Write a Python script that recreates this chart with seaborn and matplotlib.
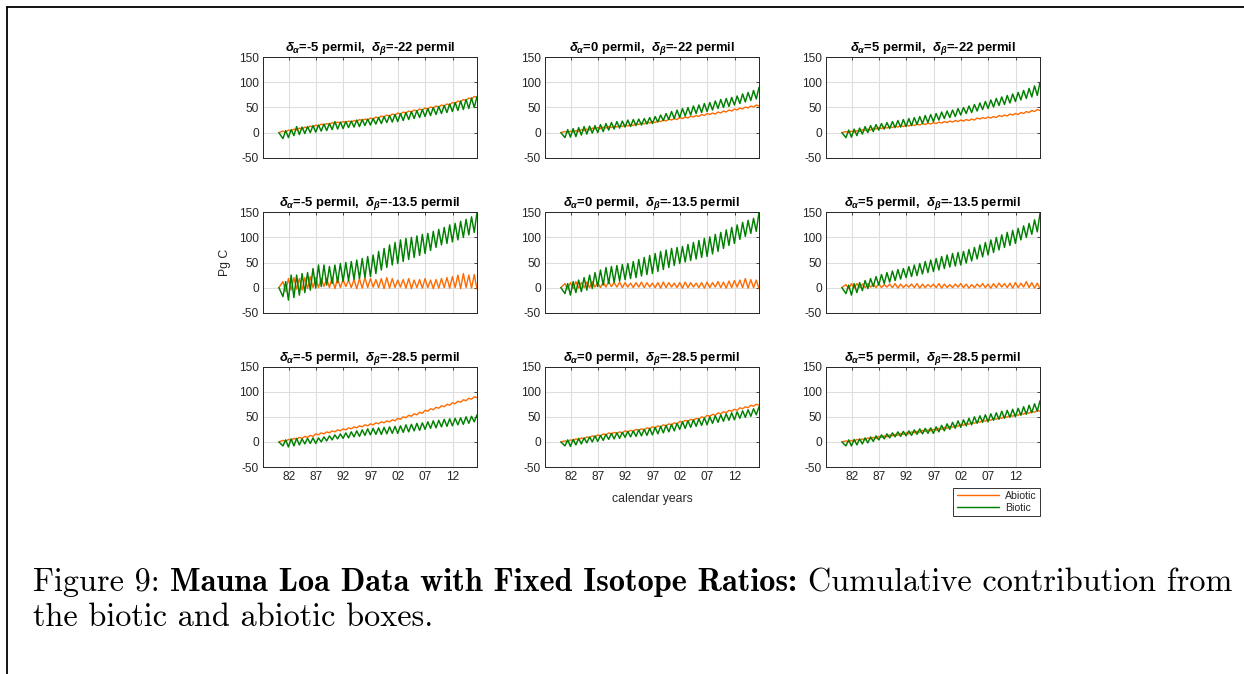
import matplotlib
matplotlib.use("Agg")
import matplotlib.pyplot as plt
import seaborn as sns
import pandas as pd
from matplotlib.lines import Line2D

# ---------------- data ----------------
ALPHAS = ["-5", "0", "5"]            # columns
BETAS = ["-22", "-13.5", "-28.5"]    # rows
TICK_YEARS = [1982, 1987, 1992, 1997, 2002, 2007, 2012]
TICK_LABELS = ["82", "87", "92", "97", "02", "07", "12"]
YTICKS = [-50, 0, 50, 100, 150]
START_T = 1980.2
CYCLE_YEARS = list(range(1980, 2016))   # one seasonal cycle per year

# panel 1: da=-5, db=-22
ABI_HI_1 = [3,5,7,9,11,13,15,17,18,20,21,22,23,24,26,27,29,31,33,35,37,39,41,43,45,47,49,51,53,55,57,60,63,66,69,72]
ABI_LO_1 = [1,3,5,7,9,11,13,15,16,18,19,20,21,22,24,25,27,29,31,33,35,37,39,41,43,45,47,49,51,53,55,58,61,64,67,70]
BIO_LO_1 = [-12,-10,-6,-4,-2,0,1,3,4,6,7,8,10,11,12,14,15,17,18,20,21,22,24,26,28,30,32,34,36,38,40,42,44,46,48,50]
BIO_HI_1 = [4,6,12,11,12,14,15,17,18,22,21,22,23,25,26,27,28,30,32,34,36,38,40,42,44,46,48,50,52,54,57,60,63,66,69,72]
# panel 2: da=0, db=-22
ABI_HI_2 = [2,3,4,6,7,9,10,11,12,13,14,15,16,18,19,21,22,24,25,27,28,30,31,33,34,36,38,39,41,43,45,47,49,51,53,55]
ABI_LO_2 = [0,1,2,4,5,7,8,9,10,11,12,13,14,16,17,19,20,22,23,25,26,28,29,31,32,34,36,37,39,41,43,45,47,49,51,53]
BIO_LO_2 = [-10,-9,-8,-5,-3,-1,0,2,5,7,9,11,12,14,15,17,18,21,24,26,28,30,33,35,38,40,42,45,48,50,52,55,58,61,64,67]
BIO_HI_2 = [6,8,10,12,13,14,16,18,20,22,23,25,26,27,28,30,32,35,38,42,45,48,50,53,55,58,60,63,66,68,70,73,77,80,84,90]
# panel 3: da=5, db=-22
ABI_HI_3 = [2,3,4,6,7,9,10,11,12,13,14,15,16,17,18,19,20,21,22,23,24,25,26,27,29,30,31,32,34,35,37,38,40,42,44,46]
ABI_LO_3 = [0,1,2,4,5,7,8,9,10,11,12,13,14,15,16,17,18,19,20,21,22,23,24,25,27,28,29,30,32,33,35,36,38,40,42,44]
BIO_LO_3 = [-10,-9,-6,-3,0,2,5,7,8,10,11,12,14,16,18,20,22,25,28,30,32,35,38,40,43,46,48,51,54,56,59,62,65,68,71,74]
BIO_HI_3 = [5,7,9,12,14,16,18,20,22,24,26,28,30,32,34,36,38,41,43,45,48,50,53,56,59,62,65,68,71,74,77,80,84,88,93,100]
# panel 4: da=-5, db=-13.5
ABI_HI_4 = [12,18,20,18,20,22,20,18,18,20,18,16,15,16,18,20,18,16,18,20,18,15,16,18,15,16,18,15,16,18,20,22,25,28,25,26]
ABI_LO_4 = [-8,-5,-3,-5,-2,0,0,2,0,-2,0,2,0,-2,-1,0,1,0,-2,-1,0,1,-1,-2,0,-1,0,-2,-1,0,-1,0,-2,0,-1,-3]
BIO_LO_4 = [-18,-25,-20,-15,-10,-5,-1,2,5,8,10,12,14,16,18,20,22,28,35,40,45,48,52,56,60,64,68,74,80,85,88,91,95,100,105,110]
BIO_HI_4 = [12,25,25,28,30,38,45,45,42,45,48,50,52,55,58,62,65,72,78,85,90,95,98,100,103,106,108,112,116,120,125,128,132,136,141,150]
# panel 5: da=0, db=-13.5
ABI_HI_5 = [8,10,12,10,11,12,10,11,12,10,11,10,9,10,11,10,9,10,11,10,9,10,11,10,9,10,11,10,12,11,13,14,15,18,16,15]
ABI_LO_5 = [-3,-2,-1,0,0,1,0,1,2,1,0,1,0,1,0,1,0,-1,0,1,0,-1,0,1,0,-1,0,1,0,-1,0,1,0,-1,0,-2]
BIO_LO_5 = [-12,-15,-10,-8,-5,-2,2,5,8,10,13,16,18,20,23,26,28,32,36,40,44,48,51,54,57,60,62,67,72,78,84,88,96,102,108,112]
BIO_HI_5 = [8,12,15,20,25,30,35,40,42,44,46,48,52,56,60,64,68,72,75,78,80,82,86,90,94,98,101,106,110,115,120,125,130,134,138,150]
# panel 6: da=5, db=-13.5
ABI_HI_6 = [6,8,8,7,8,7,8,6,7,8,7,6,7,8,7,6,7,8,7,6,7,8,7,6,7,8,7,8,9,8,9,10,9,12,10,9]
ABI_LO_6 = [-2,-1,0,0,1,0,0,1,0,-1,0,1,0,-1,0,1,0,-1,0,0,1,0,-1,0,1,0,-1,0,1,0,-1,0,1,0,-1,-2]
BIO_LO_6 = [-12,-15,-10,-6,-2,2,5,8,11,14,17,20,22,24,27,30,32,35,38,41,43,45,49,53,57,61,65,70,75,80,84,88,95,100,106,111]
BIO_HI_6 = [5,8,10,14,18,22,26,30,33,36,38,42,45,48,52,55,58,62,65,68,70,72,76,80,85,90,95,100,105,110,114,118,123,128,135,148]
# panel 7: da=-5, db=-28.5
ABI_HI_7 = [3,5,7,9,11,13,16,18,20,22,24,26,28,30,32,34,36,38,40,42,44,47,50,53,56,59,63,66,69,72,75,78,81,84,87,90]
ABI_LO_7 = [1,3,5,7,9,11,14,16,18,20,22,24,26,28,30,32,34,36,38,40,42,45,48,51,54,57,61,64,67,70,73,76,79,82,85,88]
BIO_LO_7 = [-8,-10,-8,-6,-4,-3,-3,0,2,4,6,7,8,10,11,13,14,15,15,16,17,17,19,20,22,23,25,27,28,30,31,32,34,35,37,40]
BIO_HI_7 = [4,6,7,6,7,8,8,10,12,14,16,18,20,22,24,26,27,28,29,30,31,32,34,35,37,38,40,42,43,45,46,47,48,50,51,54]
# panel 8: da=0, db=-28.5
ABI_HI_8 = [2,4,6,8,10,12,14,16,18,19,20,22,23,25,26,28,30,32,34,36,38,41,43,45,47,50,53,55,58,60,63,65,68,70,73,75]
ABI_LO_8 = [0,2,4,6,8,10,12,14,16,17,18,20,21,23,24,26,28,30,32,34,36,39,41,43,45,48,51,53,56,58,61,63,66,68,71,73]
BIO_LO_8 = [-8,-9,-6,-4,-2,0,1,3,5,6,7,9,10,11,12,13,14,16,18,20,22,25,27,29,31,33,34,37,39,41,43,44,47,49,51,54]
BIO_HI_8 = [4,5,7,8,10,12,13,15,17,18,19,21,22,24,25,27,29,31,33,35,37,40,42,44,46,48,50,52,54,56,58,60,62,64,66,70]
# panel 9: da=5, db=-28.5
ABI_HI_9 = [2,3,5,6,8,9,11,12,14,15,17,18,20,21,23,24,25,27,29,31,33,35,37,39,41,43,45,47,49,51,53,55,57,59,61,63]
ABI_LO_9 = [0,1,3,4,6,7,9,10,12,13,15,16,18,19,21,22,23,25,27,29,31,33,35,37,39,41,43,45,47,49,51,53,55,57,59,61]
BIO_LO_9 = [-8,-8,-6,-4,-2,1,4,6,8,10,11,12,13,15,16,17,17,20,22,25,27,29,32,34,37,39,40,43,45,47,49,50,53,55,58,61]
BIO_HI_9 = [4,5,6,8,10,12,14,16,18,20,21,22,24,26,27,28,30,33,36,39,42,44,47,50,52,54,56,58,61,63,65,67,70,73,76,82]

PANELS = [
    (ABI_HI_1, ABI_LO_1, BIO_LO_1, BIO_HI_1),
    (ABI_HI_2, ABI_LO_2, BIO_LO_2, BIO_HI_2),
    (ABI_HI_3, ABI_LO_3, BIO_LO_3, BIO_HI_3),
    (ABI_HI_4, ABI_LO_4, BIO_LO_4, BIO_HI_4),
    (ABI_HI_5, ABI_LO_5, BIO_LO_5, BIO_HI_5),
    (ABI_HI_6, ABI_LO_6, BIO_LO_6, BIO_HI_6),
    (ABI_HI_7, ABI_LO_7, BIO_LO_7, BIO_HI_7),
    (ABI_HI_8, ABI_LO_8, BIO_LO_8, BIO_HI_8),
    (ABI_HI_9, ABI_LO_9, BIO_LO_9, BIO_HI_9),
]

# ---------------- style ----------------
ORANGE = "#FF6A00"
GREEN = "#008000"
AXC = "#262626"

sns.set_theme(style="white")
plt.rcParams['font.family'] = ['Liberation Sans', 'DejaVu Sans']
plt.rcParams['axes.unicode_minus'] = False
plt.rcParams['mathtext.fontset'] = 'custom'
plt.rcParams['mathtext.it'] = 'Liberation Sans:italic:bold'
plt.rcParams['mathtext.rm'] = 'Liberation Sans:bold'
plt.rcParams['mathtext.bf'] = 'Liberation Sans:bold'

W, H = 1244, 674
fig = plt.figure(figsize=(W / 100, H / 100), dpi=100)
fig.patch.set_facecolor("white")

COL_LEFT = [263, 545, 826]
ROW_BOTTOM = [157.7, 312.7, 467.0]
AX_W, AX_H = 214, 100.4


def build(hi_at_trough, lo_at_peak, lo_at_trough, hi_at_peak):
    t, abi, bio = [START_T], [0], [0]
    for k, y in enumerate(CYCLE_YEARS):
        t += [y + 0.95, y + 1.45]
        abi += [hi_at_trough[k], lo_at_peak[k]]
        bio += [lo_at_trough[k], hi_at_peak[k]]
    return pd.DataFrame({"t": t, "Abiotic": abi, "Biotic": bio})


for idx, series in enumerate(PANELS):
    r, c = divmod(idx, 3)
    ax = fig.add_axes([COL_LEFT[c] / W, 1 - ROW_BOTTOM[r] / H, AX_W / W, AX_H / H])
    df = build(*series)
    sns.lineplot(data=df, x="t", y="Abiotic", ax=ax, color=ORANGE, lw=1.0,
                 sort=False, estimator=None)
    sns.lineplot(data=df, x="t", y="Biotic", ax=ax, color=GREEN, lw=1.05,
                 sort=False, estimator=None)
    ax.set_xlim(1977.3, 2016.45)
    ax.set_ylim(-50, 150)
    ax.set_xticks(TICK_YEARS)
    ax.set_yticks(YTICKS)
    ax.set_yticklabels([str(v) for v in YTICKS])
    if r == 2:
        ax.set_xticklabels(TICK_LABELS)
    else:
        ax.set_xticklabels([])
    ax.set_xlabel("")
    ax.set_ylabel("")
    ax.grid(True, color="#dedede", lw=0.8)
    ax.set_axisbelow(True)
    for s in ax.spines.values():
        s.set_color(AXC)
        s.set_linewidth(0.7)
    ax.tick_params(direction="in", length=2, width=0.6, colors=AXC,
                   labelsize=8.6, top=True, right=True, pad=3)
    ax.set_title(r"$\delta_{\alpha}$=" + ALPHAS[c] + r" permil,  $\delta_{\beta}$=" + BETAS[r] + " permil",
                 fontsize=9.4, fontweight="bold", color="black", pad=4)
    if r == 1 and c == 0:
        ax.set_ylabel("Pg C", fontsize=8.8, color=AXC)
        ax.yaxis.set_label_coords(-0.15, 0.5)
    if r == 2 and c == 1:
        ax.set_xlabel("calendar years", fontsize=8.8, color=AXC)
        ax.xaxis.set_label_coords(0.5, -0.26)

handles = [Line2D([], [], color=ORANGE, lw=1.0), Line2D([], [], color=GREEN, lw=1.05)]
leg = fig.legend(handles, ["Abiotic", "Biotic"], loc="upper right",
                 bbox_to_anchor=(1040 / W, 1 - 488 / H), fontsize=7.6,
                 frameon=True, fancybox=False, edgecolor="black",
                 handlelength=4.0, borderpad=0.3, labelspacing=0.15,
                 handletextpad=0.6, borderaxespad=0)
leg.get_frame().set_linewidth(0.7)
for txt in leg.get_texts():
    txt.set_color(AXC)

# page border
fig.add_artist(Line2D([7 / W, 1], [1 - 7 / H, 1 - 7 / H], transform=fig.transFigure,
                      color="black", lw=1.3))
fig.add_artist(Line2D([7 / W, 7 / W], [0, 1 - 7 / H], transform=fig.transFigure,
                      color="black", lw=1.3))

# caption
renderer = fig.canvas.get_renderer()
X0 = 33
LINE1 = [("Figure 9:", "cmr10"), ("Mauna Loa Data with Fixed Isotope Ratios:", "cmb10"),
         ("Cumulative contribution from", "cmr10")]
LINE2 = "the biotic and abiotic boxes."


def draw_line(fs, y_base, gap):
    x = X0
    arts = []
    for txt, fam in LINE1:
        t = fig.text(x / W, 1 - y_base / H, txt, family=fam, fontsize=fs, va="baseline",
                     ha="left", color="black")
        wpx = t.get_window_extent(renderer).width
        arts.append(t)
        x += wpx + gap
    return arts, x - gap


fs = 19
arts, xend = draw_line(fs, 591, fs * 0.45)
for a in arts:
    a.remove()
fs = fs * (1230 - X0) / (xend - X0)
arts, xend = draw_line(fs, 591, fs * 0.45)
fig.text(X0 / W, 1 - 626 / H, LINE2, family="cmr10", fontsize=fs, va="baseline",
         ha="left", color="black")

fig.savefig("out.png", dpi=100, facecolor="white")
